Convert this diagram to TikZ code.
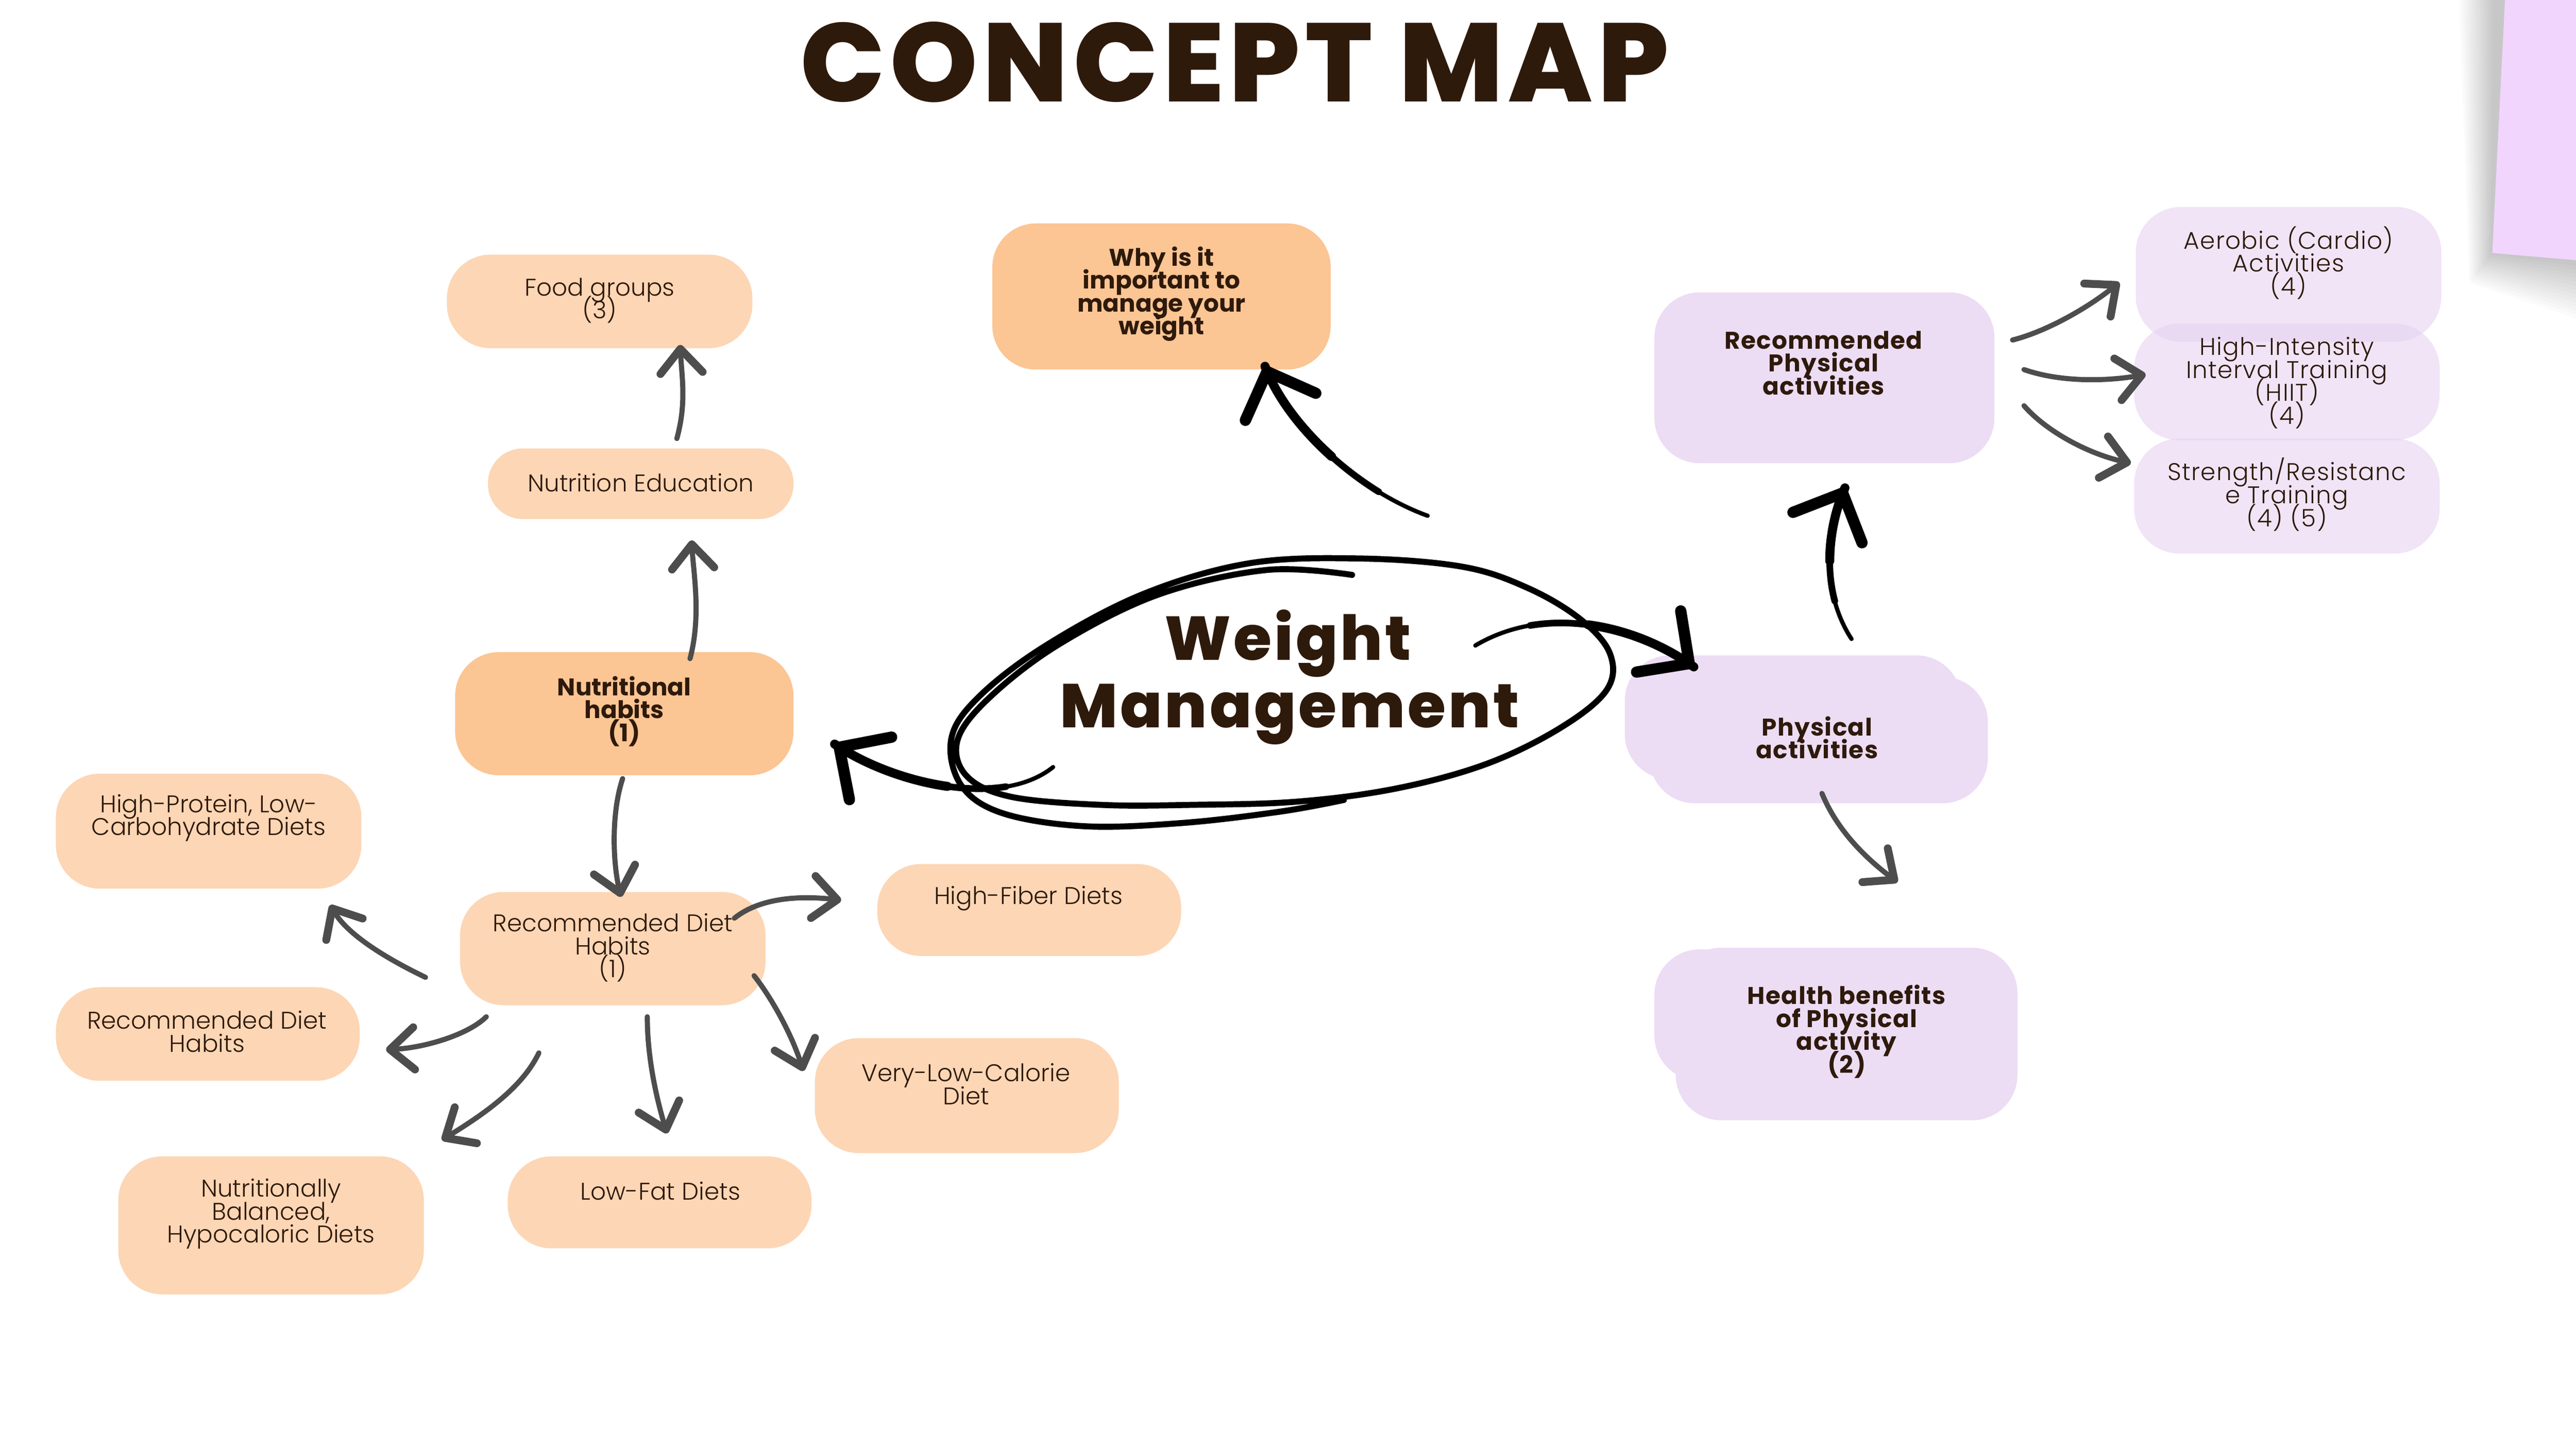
\documentclass[tikz,border=0pt]{standalone}
\usepackage{fontspec}
\setmainfont{Poppins}
\newfontfamily\thinfont{Poppins Light}
\newfontfamily\heavyfont{Poppins ExtraBold}
\usetikzlibrary{arrows.meta}
\definecolor{peach}{HTML}{FDD6B5}
\definecolor{orng}{HTML}{FCC594}
\definecolor{lilac}{HTML}{ECDCF4}
\definecolor{lilacd}{HTML}{E6D2F1}
\definecolor{notecol}{HTML}{F1D5FD}
\definecolor{ink}{HTML}{2E1A0B}
\definecolor{agrey}{HTML}{4D4D4D}
\def\U{1.08866pt}
\newcommand\tightlines{\lineskiplimit=-60pt\lineskip=0pt}
\begin{document}
\begin{tikzpicture}[x=0.038265cm, y=-0.038265cm,
  box/.style={rectangle, rounded corners=29pt, inner sep=0pt, draw=none},
  pbox/.style={box, fill=peach},
  obox/.style={box, fill=orng},
  vbox/.style={box, fill=lilac, rounded corners=30pt},
  lbox/.style={box, fill=lilacd, fill opacity=0.6, rounded corners=30pt},
  txt/.style={text=ink, align=center, inner sep=0pt, font=\thinfont\fontsize{16}{15.2}\selectfont\tightlines},
  rtxt/.style={txt, font=\thinfont\fontsize{16}{15.2}\selectfont\addfontfeatures{LetterSpace=3}\tightlines},
  btxt/.style={txt, font=\fontsize{16}{15.2}\selectfont\bfseries\tightlines},
  bstxt/.style={txt, font=\fontsize{16}{15.2}\selectfont\bfseries\addfontfeatures{LetterSpace=3}\tightlines},
  wmt/.style={text=ink, inner sep=0pt, anchor=base, font=\heavyfont\fontsize{41}{44}\selectfont\addfontfeatures{LetterSpace=4}},
  garrow/.style={draw=agrey, line width=3.4pt, line cap=round, -{Straight Barb[length=16pt,width=28pt,line width=5.2pt,round]}},
  barrow/.style={draw=black, line width=2.8pt, line cap=round, -{Straight Barb[length=25pt,width=50pt,line width=7.5pt,round]}},
  bmid/.style={draw=black, line width=4.4pt, line cap=round},
  bthick/.style={draw=black, line width=6pt, line cap=round},
  loopline/.style={draw=black, line width=4pt, line cap=round, line join=round}
]
\useasboundingbox (0,0) rectangle (1568,882);
\fill[white] (0,0) rectangle (1568,882);

% sticky note with shadow
\begin{scope}
\clip (1440,0) rectangle (1568,240);
\foreach \i in {1,...,14}{
  \fill[black, opacity=0.014] (1519-\i*1.6,-5) -- (1575,-5) -- (1575,160+\i*2.6) -- (1517-\i*1.0,154+\i*1.3) -- cycle;
}
\fill[notecol] (1525,-5) -- (1575,-5) -- (1575,159) -- (1517,154) -- cycle;
\end{scope}

% title
\node[text=ink, inner sep=0pt, anchor=base, font=\heavyfont\fontsize{74}{80}\selectfont\addfontfeatures{LetterSpace=4.5}] (title) at (751.5,62) {CONCEPT MAP};

% nutrition side boxes
\node[pbox, minimum width=186*\U, minimum height=57*\U] (fg) at (365,183.5) {};
\node[pbox, rounded corners=23pt, minimum width=186*\U, minimum height=43*\U] (ne) at (390,294.5) {};
\node[obox, minimum width=206*\U, minimum height=75*\U] (nh) at (380,434.5) {};
\node[obox, minimum width=206*\U, minimum height=89*\U] (why) at (707,180.5) {};
\node[pbox, minimum width=186*\U, minimum height=70*\U] (hp) at (127,506) {};
\node[pbox, minimum width=186*\U, minimum height=69*\U] (rdh) at (373,577.5) {};
\node[pbox, minimum width=185*\U, minimum height=56*\U] (hf) at (626.5,554) {};
\node[pbox, minimum width=185*\U, minimum height=57*\U] (rdl) at (126.5,629.5) {};
\node[pbox, minimum width=185*\U, minimum height=70*\U] (vlc) at (588.5,667) {};
\node[pbox, minimum width=186*\U, minimum height=84*\U] (nb) at (165,746) {};
\node[pbox, minimum width=185*\U, minimum height=56*\U] (lf) at (401.5,732) {};

% physical side boxes
\node[vbox, minimum width=207*\U, minimum height=104*\U] (rpa) at (1110.5,230) {};
\node[lbox, minimum width=186*\U, minimum height=82*\U] (aer) at (1393,167) {};
\node[lbox, minimum width=186*\U, minimum height=71*\U] (hiit) at (1392,232.5) {};
\node[lbox, minimum width=186*\U, minimum height=70*\U] (str) at (1392,302) {};
\node[vbox, minimum width=205*\U, minimum height=75.5*\U] (pa1) at (1091.5,436.75) {};
\node[vbox, minimum width=206*\U, minimum height=77*\U] (pa2) at (1107,450.5) {};
\node[vbox, minimum width=205*\U, minimum height=80*\U] (hb1) at (1109.5,618) {};
\node[vbox, minimum width=208*\U, minimum height=105*\U] (hb2) at (1124,629.5) {};

% texts
\node[txt] (fgT) at (365,183) {Food groups\\(3)};
\node[txt] (neT) at (390,294) {Nutrition Education};
\node[btxt] (nhT) at (380,433) {Nutritional\\habits\\(1)};
\node[btxt] (whyT) at (707,179) {Why is it\\important to\\manage your\\weight};
\node[txt] (hpT) at (127,498) {High-Protein, Low-\\Carbohydrate Diets};
\node[txt] (rdhT) at (373,577) {Recommended Diet\\Habits\\(1)};
\node[txt] (hfT) at (626,547) {High-Fiber Diets};
\node[txt] (rdlT) at (126,628) {Recommended Diet\\Habits};
\node[txt] (vlcT) at (588,660) {Very-Low-Calorie\\Diet};
\node[txt] (nbT) at (165,739) {Nutritionally\\Balanced,\\Hypocaloric Diets};
\node[txt] (lfT) at (402,725) {Low-Fat Diets};
\node[bstxt] (rpaT) at (1110,221) {Recommended\\Physical\\activities};
\node[rtxt] (aerT) at (1393,160) {Aerobic (Cardio)\\Activities\\(4)};
\node[rtxt] (hiitT) at (1392,233) {High-Intensity\\Interval Training\\(HIIT)\\(4)};
\node[rtxt] (strT) at (1392,301) {Strength/Resistanc\\e Training\\(4) (5)};
\node[bstxt] (paT) at (1106,449) {Physical\\activities};
\node[bstxt] (hbT) at (1124,628) {Health benefits\\of Physical\\activity\\(2)};

% central hand-drawn loop
\draw[loopline] plot[smooth, tension=0.6] coordinates {
 (823,350) (771,347) (705,362) (645,392) (603,424) (583,450) (588,472) (615,485)
 (670,490) (726,490) (790,488) (850,480) (905,465) (950,443) (978,420) (980,398)
 (962,377) (930,358) (890,345) (827,340) (760,343) (695,362) (635,394) (595,425)
 (579,450) (585,478) (610,495) (660,503) (720,501) (780,494) (818,487)};
\node[wmt] (wm) at (784,402) {Weight};
\node[wmt] (wm2) at (785,443) {Management};

% black arrows (tapered: thin tail, thicker towards the head)
\draw[barrow] ([shift={(85,-88)}]wm.base) .. controls (830,300) and (785,262) .. ([shift={(63,42.5)}]why.center);
\draw[bmid] (839.2,299.4) .. controls (809.4,280.9) and (781.25,252.25) .. (770,223);
\draw[bthick] (810.5,277.9) .. controls (792.5,261.75) and (777.5,242.5) .. (770,223);

\draw[barrow] ([shift={(-143,65)}]wm.base) .. controls (610,492) and (545,478) .. ([shift={(128,18.5)}]nh.center);
\draw[bmid] (612.3,478.9) .. controls (579.25,484.3) and (535.75,471.75) .. (508,453);
\draw[bthick] (576.75,478.75) .. controls (552,475.25) and (526.5,465.5) .. (508,453);

\draw[barrow] ([shift={(114,-9)}]wm.base) .. controls (940,368) and (995,380) .. ([shift={(-60.5,-30.75)}]pa1.center);
\draw[bmid] (931.4,380.8) .. controls (966.3,374.9) and (1004,386.5) .. (1031,406);
\draw[bthick] (966.75,380.4) .. controls (990.25,383.5) and (1013,393) .. (1031,406);

\draw[barrow] ([shift={(35.5,-47.75)}]pa1.center) .. controls (1108,360) and (1112,322) .. ([shift={(12.5,67)}]rpa.center);
\draw[bmid] (1116.8,365.9) .. controls (1110.4,341.8) and (1114.75,315.75) .. (1123,297);
\draw[bthick] (1113.75,341.5) .. controls (1113.75,325.25) and (1117.5,309.5) .. (1123,297);

% grey arrows
\draw[garrow] ([shift={(40,-33.5)}]nh.center) .. controls (427,375) and (422,348) .. ([shift={(31,34.5)}]ne.center);
\draw[garrow] ([shift={(22,-27.5)}]ne.center) .. controls (418,245) and (415,230) .. ([shift={(49,26.5)}]fg.center);
\draw[garrow] ([shift={(-1,39.5)}]nh.center) .. controls (372,495) and (373,525) .. ([shift={(5,-31.5)}]rdh.center);
\draw[garrow] ([shift={(-114,17.5)}]rdh.center) .. controls (232,582) and (211,568) .. ([shift={(74,45)}]hp.center);
\draw[garrow] ([shift={(-77,41.5)}]rdh.center) .. controls (285,630) and (258,638) .. ([shift={(108.5,9.5)}]rdl.center);
\draw[garrow] ([shift={(-45,63.5)}]rdh.center) .. controls (318,662) and (295,678) .. ([shift={(104,-52)}]nb.center);
\draw[garrow] ([shift={(21,41.5)}]rdh.center) .. controls (394,645) and (400,670) .. ([shift={(4.5,-42)}]lf.center);
\draw[garrow] ([shift={(86,16.5)}]rdh.center) .. controls (470,608) and (482,630) .. ([shift={(-99.5,-15)}]vlc.center);
\draw[garrow] ([shift={(74,-18.5)}]rdh.center) .. controls (462,547) and (485,545) .. ([shift={(-114.5,-6)}]hf.center);
\draw[garrow] ([shift={(114.5,-23)}]rpa.center) .. controls (1245,202) and (1270,188) .. ([shift={(-103,5)}]aer.center);
\draw[garrow] ([shift={(121.5,-5)}]rpa.center) .. controls (1255,233) and (1283,232) .. ([shift={(-86,-4.5)}]hiit.center);
\draw[garrow] ([shift={(121.5,17)}]rpa.center) .. controls (1245,262) and (1270,276) .. ([shift={(-95,-20)}]str.center);
\draw[garrow] ([shift={(2,32.5)}]pa2.center) .. controls (1118,505) and (1135,522) .. ([shift={(31,-92.5)}]hb2.center);
\end{tikzpicture}
\end{document}
